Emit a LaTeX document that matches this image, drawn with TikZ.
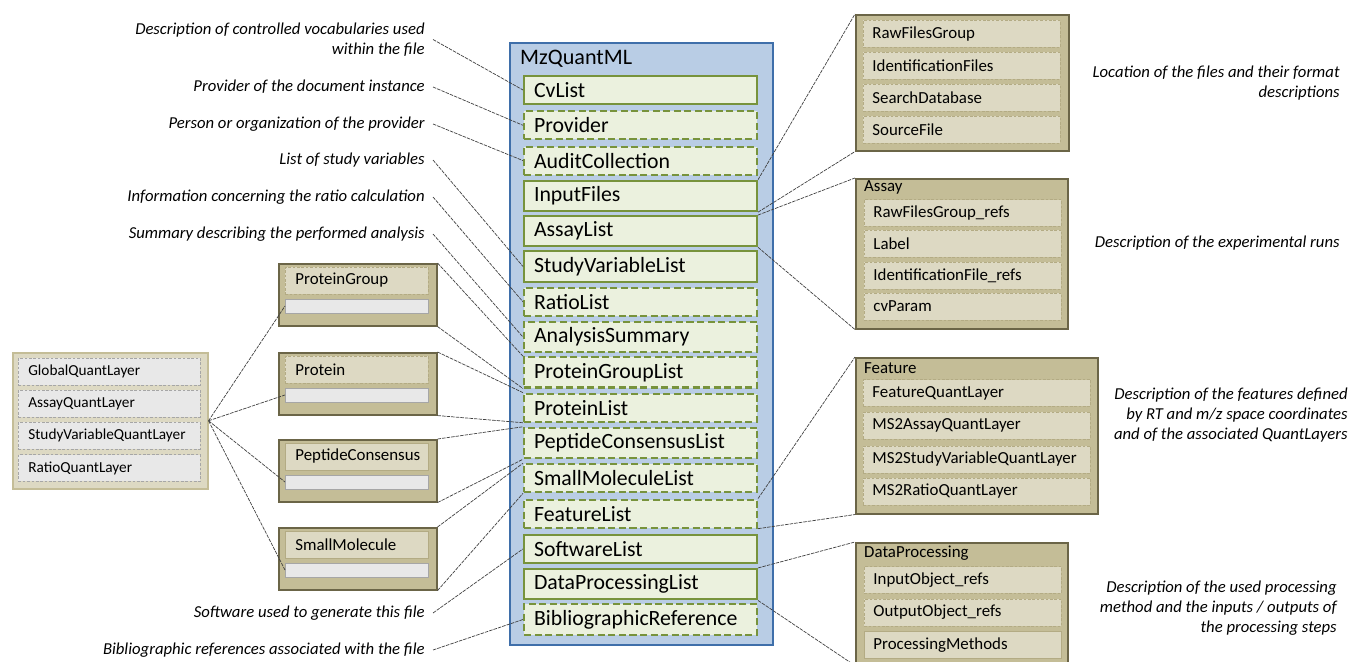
\documentclass[tikz,border=0pt]{standalone}
\usepackage{fontspec}
\setmainfont{Carlito}
\usepackage{tikz}
\usetikzlibrary{positioning}
\definecolor{mzblue}{HTML}{B9CDE5}
\definecolor{mzblueline}{HTML}{3F6FAA}
\definecolor{mzgreen}{HTML}{EBF1DE}
\definecolor{mzgreenline}{HTML}{77933C}
\definecolor{khaki}{HTML}{C4BD97}
\definecolor{khakiline}{HTML}{6B6547}
\definecolor{khakilight}{HTML}{DDD9C3}
\definecolor{khakidash}{HTML}{B3AB84}
\definecolor{bargray}{HTML}{E8E8E8}
\definecolor{bargrayline}{HTML}{A6A6A6}

\begin{document}
\begin{tikzpicture}[x=0.02cm,y=-0.02cm,
    item/.style={rectangle, draw=mzgreenline, fill=mzgreen, line width=1.2pt, anchor=west,
      minimum width=4.66cm, minimum height=0.56cm, text width=4.26cm, inner xsep=0.2cm,
      align=left, font=\fontsize{12.4}{14}\selectfont},
    optitem/.style={item, dash pattern=on 4pt off 2pt},
    kbox/.style={rectangle, draw=khakiline, fill=khaki, line width=0.9pt, anchor=north west, inner sep=0pt},
    kitem/.style={rectangle, draw=khakidash, fill=khakilight, line width=0.5pt, anchor=west,
      minimum height=0.54cm, inner xsep=0.18cm, align=left, font=\fontsize{9.6}{11}\selectfont},
    koptitem/.style={kitem, dash pattern=on 1.5pt off 1pt},
    ktitle/.style={anchor=west, font=\fontsize{9.6}{11}\selectfont},
    qitem/.style={rectangle, draw=bargrayline, fill=bargray, line width=0.4pt, dash pattern=on 1.5pt off 1pt,
      anchor=west, minimum height=0.54cm, text width=3.24cm, inner xsep=0.2cm, align=left,
      font=\fontsize{8.7}{10}\selectfont},
    gbar/.style={rectangle, draw=bargrayline, fill=bargray, line width=0.5pt, anchor=west,
      minimum width=2.86cm, minimum height=0.28cm, inner sep=0pt},
    desc/.style={align=right, inner xsep=0.16cm, inner ysep=0pt, font=\fontsize{9.5}{11.5}\selectfont\itshape},
    conn/.style={draw=black!75, line width=0.4pt, dash pattern=on 2pt off 0.6pt}]

    \useasboundingbox (0,0) rectangle (1353,662);

    % central element
    \node[rectangle, draw=mzblueline, fill=mzblue, line width=1.4pt, anchor=north west,
      minimum width=5.26cm, minimum height=12.04cm, inner sep=0pt] (mzq) at (509,42) {};
    \node[anchor=west, font=\fontsize{12.6}{14}\selectfont] (mzqtitle) at (514,59) {MzQuantML};

    \foreach \nm/\txt/\st [count=\i from 0] in {cvlist/CvList/item, provider/Provider/optitem,
        audit/AuditCollection/optitem, inputfiles/InputFiles/item, assaylist/AssayList/item,
        studylist/StudyVariableList/item, ratiolist/RatioList/optitem, summary/AnalysisSummary/optitem,
        pglist/ProteinGroupList/optitem, protlist/ProteinList/optitem,
        peplist/PeptideConsensusList/optitem, smlist/SmallMoleculeList/optitem,
        featlist/FeatureList/optitem, softlist/SoftwareList/item,
        dplist/DataProcessingList/item, biblio/BibliographicReference/optitem}
      \node[\st] (\nm) at (523,90+35.3*\i) {\txt};

    % right side
    \node[kbox, minimum width=4.26cm, minimum height=2.72cm] (files) at (855,14) {};
    \foreach \nm/\txt/\y in {rfg/RawFilesGroup/34, idf/IdentificationFiles/65.5,
        sdb/SearchDatabase/97.5, srcf/SourceFile/129.5}
      \node[koptitem, minimum width=3.94cm, text width=3.58cm] (\nm) at (863,\y) {\txt};

    \node[kbox, minimum width=4.24cm, minimum height=3cm] (assay) at (855,178) {};
    \node[ktitle] (assaytitle) at (858,187) {Assay};
    \foreach \nm/\txt/\y in {rfgref/RawFilesGroup\_refs/213, label/Label/243.5,
        idfref/IdentificationFile\_refs/275.5, cvparam/cvParam/306.5}
      \node[koptitem, minimum width=3.94cm, text width=3.58cm] (\nm) at (864,\y) {\txt};

    \node[kbox, minimum width=4.84cm, minimum height=3.12cm] (feature) at (855,357) {};
    \node[ktitle] (featuretitle) at (858,368) {Feature};
    \foreach \nm/\txt/\y in {fql/FeatureQuantLayer/393, msaql/MS2AssayQuantLayer/425.5,
        mssvql/MS2StudyVariableQuantLayer/459.5, msrql/MS2RatioQuantLayer/491.5}
      \node[koptitem, minimum width=4.54cm, text width=4.18cm] (\nm) at (863,\y) {\txt};

    \node[kbox, minimum width=4.24cm, minimum height=2.44cm] (dataproc) at (855,542) {};
    \node[ktitle] (dataproctitle) at (858,553) {DataProcessing};
    \node[koptitem, minimum width=3.94cm, text width=3.58cm] (inref) at (864,580) {InputObject\_refs};
    \node[koptitem, minimum width=3.94cm, text width=3.58cm] (outref) at (864,612.5) {OutputObject\_refs};
    \node[kitem, minimum width=3.94cm, text width=3.58cm] (procm) at (864,645) {ProcessingMethods};

    % left side
    \node[rectangle, draw=khaki, fill=khakilight, line width=0.9pt, anchor=north west,
      minimum width=3.9cm, minimum height=2.72cm, inner sep=0pt] (quant) at (12,352) {};
    \foreach \nm/\txt/\y in {gql/GlobalQuantLayer/371.5, aql/AssayQuantLayer/403.5,
        svql/StudyVariableQuantLayer/435.5, rql/RatioQuantLayer/468}
      \node[qitem, minimum width=3.64cm] (\nm) at (18,\y) {\txt};

    \foreach \nm/\txt/\st/\y in {pg/ProteinGroup/koptitem/263, prot/Protein/koptitem/352,
        pep/PeptideConsensus/kitem/439, sm/SmallMolecule/kitem/527} {
      \node[kbox, minimum width=3.16cm, minimum height=1.24cm] (\nm box) at (278,\y) {};
      \node[\st, minimum width=2.86cm, text width=2.46cm, inner xsep=0.2cm] (\nm label) at (285,\y+17.5) {\txt};
      \node[gbar] (\nm bar) at (285,\y+43) {};
    }

    % descriptions
    \node[desc, anchor=east] (dcv) at (433,39.5) {Description of controlled vocabularies used\\within the file};
    \node[desc, anchor=east] (dprov) at (433,87) {Provider of the document instance};
    \node[desc, anchor=east] (daudit) at (433,124) {Person or organization of the provider};
    \node[desc, anchor=east] (dstudy) at (433,160) {List of study variables};
    \node[desc, anchor=east] (dratio) at (433,197) {Information concerning the ratio calculation};
    \node[desc, anchor=east] (dsum) at (433,234) {Summary describing the performed analysis};
    \node[desc, anchor=east] (dsoft) at (433,613) {Software used to generate this file};
    \node[desc, anchor=east] (dbib) at (433,650) {Bibliographic references associated with the file};

    \node[desc, anchor=east, inner xsep=0pt] (dfiles) at (1340,83) {Location of the files and their format\\descriptions};
    \node[desc, anchor=east, inner xsep=0pt] (dassay) at (1340,243) {Description of the experimental runs};
    \node[desc, anchor=east, inner xsep=0pt] (dfeat) at (1348,415) {Description of the features defined\\by RT and m/z space coordinates\\and of the associated QuantLayers};
    \node[desc, anchor=east, inner xsep=0pt] (dproc) at (1337,608) {Description of the used processing\\method and the inputs / outputs of\\the processing steps};

    % connectors
    \draw[conn] (dcv.east) -- (cvlist.west);
    \draw[conn] (dprov.east) -- (provider.west);
    \draw[conn] (daudit.east) -- (audit.west);
    \draw[conn] (dstudy.east) -- (studylist.west);
    \draw[conn] (dratio.east) -- (ratiolist.west);
    \draw[conn] (dsum.east) -- (summary.west);
    \draw[conn] (dsoft.east) -- (softlist.west);
    \draw[conn] (dbib.east) -- (biblio.west);

    \draw[conn] (quant.east) -- (pgbar.west);
    \draw[conn] (quant.east) -- (protbar.west);
    \draw[conn] (quant.east) -- (pepbar.west);
    \draw[conn] (quant.east) -- (smbar.west);

    \draw[conn] (pgbox.north east) -- (pglist.north west);
    \draw[conn] (pgbox.south east) -- (pglist.south west);
    \draw[conn] (protbox.north east) -- (protlist.north west);
    \draw[conn] (protbox.south east) -- (protlist.south west);
    \draw[conn] (pepbox.north east) -- (peplist.north west);
    \draw[conn] (pepbox.south east) -- (peplist.south west);
    \draw[conn] (smbox.north east) -- (smlist.north west);
    \draw[conn] (smbox.south east) -- (smlist.south west);

    \draw[conn] (inputfiles.north east) -- (files.north west);
    \draw[conn] (inputfiles.south east) -- (files.south west);
    \draw[conn] (assaylist.north east) -- (assay.north west);
    \draw[conn] (assaylist.south east) -- (assay.south west);
    \draw[conn] (featlist.north east) -- (feature.north west);
    \draw[conn] (featlist.south east) -- (feature.south west);
    \draw[conn] (dplist.north east) -- (dataproc.north west);
    \draw[conn] (dplist.south east) -- (dataproc.south west);

\end{tikzpicture}
\end{document}
